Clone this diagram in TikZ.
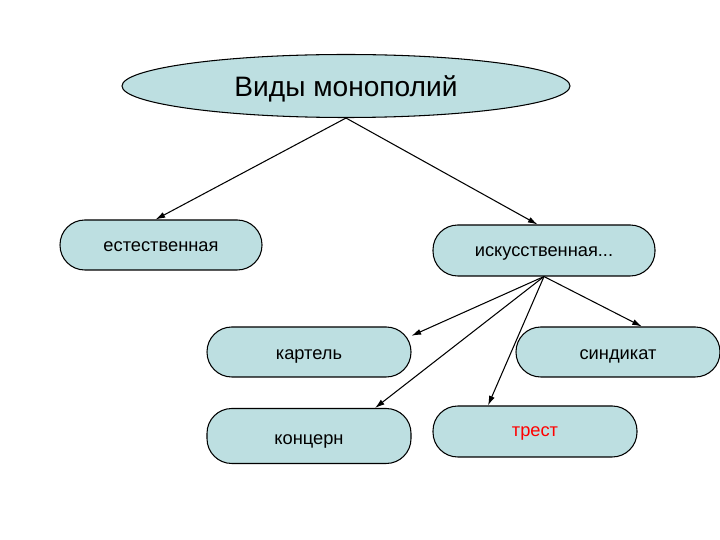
\documentclass[tikz,border=0pt]{standalone}
\usepackage{fontspec}
\setmainfont{Liberation Sans}
\usepackage{tikz}
\usetikzlibrary{arrows.meta,shapes.geometric}

\definecolor{boxfill}{RGB}{189,223,225}

\begin{document}
\begin{tikzpicture}[
    oval/.style={
        draw,
        ellipse,
        fill=boxfill,
        inner sep=0pt,
        minimum width=11.2cm,
        minimum height=1.575cm,
        text height=17.5pt,
        text depth=3pt,
        font=\fontsize{20}{24}\selectfont
    },
    pill/.style={
        draw,
        fill=boxfill,
        rounded corners=0.62cm,
        inner sep=0pt,
        minimum width=5.1cm,
        minimum height=1.25cm,
        text height=13pt,
        text depth=3pt,
        font=\fontsize{13}{16}\selectfont
    },
    line width=0.75pt,
    >={Latex[length=2.4mm,width=1.5mm]}
]
\useasboundingbox (0,0) rectangle (18,13.5);

\node[oval] (kinds) at (8.65,11.35) {Виды монополий};

\node[pill, minimum width=5.05cm, text height=12.5pt] (natural) at (4.025,7.375) {естественная};
\node[pill, minimum width=5.55cm, minimum height=1.275cm, text height=11.8pt] (artificial) at (13.6,7.2375) {искусственная...};

\node[pill] (cartel) at (7.725,4.7) {картель};
\node[pill] (syndicate) at (15.45,4.7) {синдикат};
\node[pill, minimum height=1.375cm, text height=15.8pt] (concern) at (7.725,2.6) {концерн};
\node[pill, minimum height=1.275cm, text height=10.8pt, text=red] (trust) at (13.375,2.7125) {трест};

\draw[->] (kinds.south) -- (natural.102);
\draw[->] (kinds.south) -- (artificial.104);
\draw[->] (artificial.south) -- (cartel.9);
\draw[->] (artificial.south) -- (syndicate.47);
\draw[->] (artificial.south) -- (concern.23);
\draw[->] (artificial.south) -- (trust.151);

\end{tikzpicture}
\end{document}
